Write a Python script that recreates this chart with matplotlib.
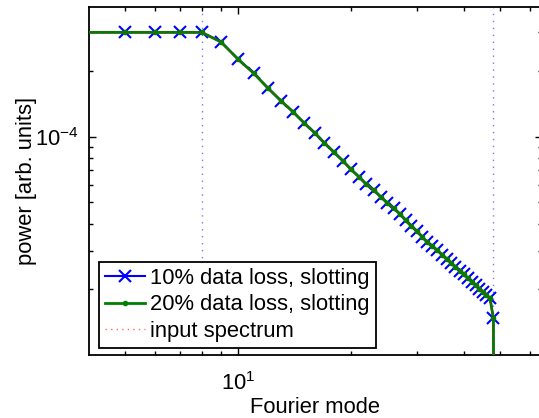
import matplotlib
matplotlib.use("Agg")
import matplotlib.pyplot as plt
from matplotlib.ticker import FixedLocator, FixedFormatter, NullFormatter

plt.rcParams['font.family'] = ['Liberation Sans', 'DejaVu Sans']
plt.rcParams['mathtext.default'] = 'regular'

# Fourier modes
modes = list(range(1, 50))

# 10% data loss, slotting
power_10 = [3.0e-4, 3.0e-4, 3.0e-4, 3.0e-4, 3.0e-4, 3.0e-4, 3.0e-4, 3.0e-4,
            2.72e-4, 2.26e-4, 1.95e-4, 1.67e-4, 1.46e-4, 1.30e-4, 1.155e-4, 1.04e-4,
            9.36e-5, 8.48e-5, 7.77e-5, 7.07e-5, 6.55e-5, 6.04e-5, 5.70e-5, 5.30e-5,
            4.98e-5, 4.69e-5, 4.43e-5, 4.13e-5, 3.89e-5, 3.69e-5, 3.47e-5, 3.28e-5,
            3.14e-5, 3.02e-5, 2.88e-5, 2.76e-5, 2.64e-5, 2.53e-5, 2.43e-5, 2.34e-5,
            2.25e-5, 2.17e-5, 2.09e-5, 2.01e-5, 1.95e-5, 1.88e-5, 1.82e-5, 1.47e-5,
            1e-12]

# 20% data loss, slotting
power_20 = [3.0e-4, 3.0e-4, 3.0e-4, 3.0e-4, 3.0e-4, 3.0e-4, 3.0e-4, 3.0e-4,
            2.71e-4, 2.26e-4, 1.95e-4, 1.67e-4, 1.46e-4, 1.30e-4, 1.155e-4, 1.04e-4,
            9.36e-5, 8.48e-5, 7.77e-5, 7.07e-5, 6.55e-5, 6.04e-5, 5.70e-5, 5.30e-5,
            4.98e-5, 4.69e-5, 4.43e-5, 4.13e-5, 3.89e-5, 3.69e-5, 3.47e-5, 3.28e-5,
            3.14e-5, 3.02e-5, 2.88e-5, 2.76e-5, 2.64e-5, 2.53e-5, 2.43e-5, 2.34e-5,
            2.25e-5, 2.17e-5, 2.09e-5, 2.01e-5, 1.95e-5, 1.88e-5, 1.82e-5, 1.47e-5,
            1e-12]

# input spectrum
power_in = [3.0e-4, 3.0e-4, 3.0e-4, 3.0e-4, 3.0e-4, 3.0e-4, 3.0e-4, 3.0e-4,
            2.72e-4, 2.26e-4, 1.95e-4, 1.67e-4, 1.46e-4, 1.30e-4, 1.155e-4, 1.04e-4,
            9.36e-5, 8.48e-5, 7.77e-5, 7.07e-5, 6.55e-5, 6.04e-5, 5.70e-5, 5.30e-5,
            4.98e-5, 4.69e-5, 4.43e-5, 4.13e-5, 3.89e-5, 3.69e-5, 3.47e-5, 3.28e-5,
            3.14e-5, 3.02e-5, 2.88e-5, 2.76e-5, 2.64e-5, 2.53e-5, 2.43e-5, 2.34e-5,
            2.25e-5, 2.17e-5, 2.09e-5, 2.01e-5, 1.95e-5, 1.88e-5, 1.82e-5, 1.47e-5,
            1e-12]

# band limits (vertical dotted lines)
band_limits = [8, 48]

labels = ["10% data loss, slotting", "20% data loss, slotting", "input spectrum"]

fig = plt.figure(figsize=(5.39, 4.18), dpi=100)
ax = fig.add_axes([89/539, (418-355)/418, (541.5-89)/539, (355-7)/418])

for b in band_limits:
    ax.axvline(b, color='#7878ff', linestyle=(0, (1, 4)), linewidth=1.0, zorder=1)

ax.plot(modes, power_10, color='#0000ff', linestyle='-', linewidth=1.5,
        marker='x', markersize=9, markeredgewidth=1.5, markevery=slice(4, None),
        label=labels[0], zorder=3)
ax.plot(modes, power_20, color='#008000', linestyle='-', linewidth=2.0,
        marker='.', markersize=6, markevery=slice(4, None), label=labels[1], zorder=4)
ax.plot(modes, power_in, color='#ff0000', linestyle=(0, (1, 3)), linewidth=1.0,
        alpha=0.6, label=labels[2], zorder=5)

ax.set_xscale('log')
ax.set_yscale('log')
ax.set_xlim(4, 64.5)
ax.set_ylim(1e-5, 3.92e-4)

ax.xaxis.set_major_locator(FixedLocator([10]))
ax.xaxis.set_major_formatter(FixedFormatter([r'$\mathregular{10^{1}}$']))
ax.xaxis.set_minor_locator(FixedLocator([5, 6, 7, 8, 9, 20, 30, 40, 50, 60]))
ax.xaxis.set_minor_formatter(NullFormatter())
ax.yaxis.set_major_locator(FixedLocator([1e-4]))
ax.yaxis.set_major_formatter(FixedFormatter([r'$\mathregular{10^{-4}}$']))
ax.yaxis.set_minor_locator(FixedLocator([2e-5, 3e-5, 4e-5, 5e-5, 6e-5, 7e-5, 8e-5, 9e-5, 2e-4, 3e-4]))
ax.yaxis.set_minor_formatter(NullFormatter())

ax.tick_params(which='both', direction='in', top=True, right=True, labelsize=15.8, width=1.0)
ax.tick_params(which='major', length=5)
ax.tick_params(which='minor', length=3)
ax.tick_params(axis='x', which='major', pad=12)
ax.tick_params(axis='y', which='major', pad=7)
for s in ax.spines.values():
    s.set_linewidth(1.3)

ax.set_xlabel('Fourier mode', fontsize=15.8, labelpad=2)
ax.set_ylabel('power [arb. units]', fontsize=15.8)
ax.yaxis.set_label_coords(-0.115, 0.5)

leg = ax.legend(loc='lower left', bbox_to_anchor=(0.022, 0.02), borderaxespad=0,
                fontsize=15.8, handlelength=1.8, handletextpad=0.25,
                labelspacing=0.25, borderpad=0.28, fancybox=False, framealpha=1,
                edgecolor='black')
leg.get_frame().set_linewidth(1.3)

fig.savefig('out.png', dpi=100)
